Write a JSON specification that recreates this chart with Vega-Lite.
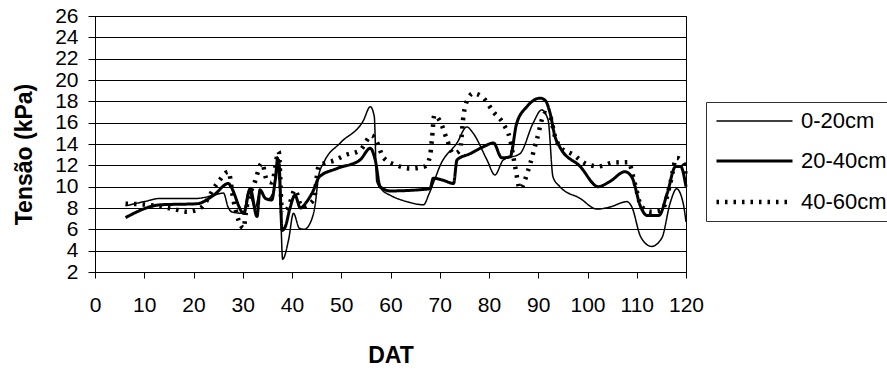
{
  "$schema": "https://vega.github.io/schema/vega-lite/v6.json",
  "width": 591,
  "height": 256,
  "autosize": {"type": "none"},
  "padding": {"left": 95, "top": 16, "right": 201, "bottom": 99},
  "background": "white",
  "config": {
    "font": "Liberation Sans",
    "view": {"stroke": "#000", "strokeWidth": 1}
  },
  "data": {
    "values": [
      {"s": "0-20cm", "x": 6.2, "y": 8.2},
      {"s": "0-20cm", "x": 10, "y": 8.6},
      {"s": "0-20cm", "x": 13.3, "y": 8.9},
      {"s": "0-20cm", "x": 20.7, "y": 8.9},
      {"s": "0-20cm", "x": 24.1, "y": 9.2},
      {"s": "0-20cm", "x": 26.1, "y": 9.4},
      {"s": "0-20cm", "x": 27, "y": 8.1},
      {"s": "0-20cm", "x": 28, "y": 7.6},
      {"s": "0-20cm", "x": 30.1, "y": 7.5},
      {"s": "0-20cm", "x": 31.2, "y": 9.6},
      {"s": "0-20cm", "x": 32.5, "y": 8.0},
      {"s": "0-20cm", "x": 33.5, "y": 9.5},
      {"s": "0-20cm", "x": 35, "y": 8.8},
      {"s": "0-20cm", "x": 36.2, "y": 9.5},
      {"s": "0-20cm", "x": 37, "y": 12.8},
      {"s": "0-20cm", "x": 37.6, "y": 9.0},
      {"s": "0-20cm", "x": 38.1, "y": 3.2},
      {"s": "0-20cm", "x": 39.3, "y": 5.0},
      {"s": "0-20cm", "x": 40.3, "y": 7.5},
      {"s": "0-20cm", "x": 41.5, "y": 6.1},
      {"s": "0-20cm", "x": 42.5, "y": 6.0},
      {"s": "0-20cm", "x": 43.7, "y": 6.6},
      {"s": "0-20cm", "x": 44.7, "y": 8.3},
      {"s": "0-20cm", "x": 45.4, "y": 11.0},
      {"s": "0-20cm", "x": 46.5, "y": 12.3},
      {"s": "0-20cm", "x": 49.8, "y": 14.1},
      {"s": "0-20cm", "x": 54.5, "y": 16.2},
      {"s": "0-20cm", "x": 55.9, "y": 17.5},
      {"s": "0-20cm", "x": 56.7, "y": 16.6},
      {"s": "0-20cm", "x": 57.2, "y": 10.5},
      {"s": "0-20cm", "x": 58.5, "y": 9.6},
      {"s": "0-20cm", "x": 59.9, "y": 9.2},
      {"s": "0-20cm", "x": 63.3, "y": 8.6},
      {"s": "0-20cm", "x": 66.7, "y": 8.3},
      {"s": "0-20cm", "x": 67.8, "y": 9.3},
      {"s": "0-20cm", "x": 69, "y": 10.7},
      {"s": "0-20cm", "x": 70.1, "y": 12.0},
      {"s": "0-20cm", "x": 73.5, "y": 14.1},
      {"s": "0-20cm", "x": 75.5, "y": 15.6},
      {"s": "0-20cm", "x": 76.8, "y": 15.0},
      {"s": "0-20cm", "x": 79.6, "y": 12.5},
      {"s": "0-20cm", "x": 81.2, "y": 11.1},
      {"s": "0-20cm", "x": 82.9, "y": 12.5},
      {"s": "0-20cm", "x": 86.3, "y": 13.1},
      {"s": "0-20cm", "x": 89, "y": 16.0},
      {"s": "0-20cm", "x": 90.7, "y": 17.2},
      {"s": "0-20cm", "x": 92, "y": 16.25},
      {"s": "0-20cm", "x": 93, "y": 10.9},
      {"s": "0-20cm", "x": 94.4, "y": 10.0},
      {"s": "0-20cm", "x": 98.5, "y": 8.9},
      {"s": "0-20cm", "x": 101.9, "y": 7.9},
      {"s": "0-20cm", "x": 104.6, "y": 8.1},
      {"s": "0-20cm", "x": 108, "y": 8.6},
      {"s": "0-20cm", "x": 109, "y": 8.1},
      {"s": "0-20cm", "x": 110.8, "y": 5.3},
      {"s": "0-20cm", "x": 113, "y": 4.4},
      {"s": "0-20cm", "x": 115.1, "y": 5.2},
      {"s": "0-20cm", "x": 116.8, "y": 8.5},
      {"s": "0-20cm", "x": 118.1, "y": 9.8},
      {"s": "0-20cm", "x": 119.4, "y": 8.5},
      {"s": "0-20cm", "x": 120, "y": 6.7},

      {"s": "20-40cm", "x": 6.2, "y": 7.1},
      {"s": "20-40cm", "x": 13.3, "y": 8.3},
      {"s": "20-40cm", "x": 20.7, "y": 8.4},
      {"s": "20-40cm", "x": 24.1, "y": 9.2},
      {"s": "20-40cm", "x": 27.1, "y": 10.3},
      {"s": "20-40cm", "x": 27.6, "y": 10.0},
      {"s": "20-40cm", "x": 30.2, "y": 7.5},
      {"s": "20-40cm", "x": 31.5, "y": 9.8},
      {"s": "20-40cm", "x": 32.9, "y": 7.2},
      {"s": "20-40cm", "x": 33.5, "y": 9.7},
      {"s": "20-40cm", "x": 34.6, "y": 8.9},
      {"s": "20-40cm", "x": 35.9, "y": 8.75},
      {"s": "20-40cm", "x": 36.6, "y": 10.6},
      {"s": "20-40cm", "x": 37.3, "y": 12.5},
      {"s": "20-40cm", "x": 38.0, "y": 5.9},
      {"s": "20-40cm", "x": 38.6, "y": 6.2},
      {"s": "20-40cm", "x": 39.6, "y": 8.0},
      {"s": "20-40cm", "x": 40.6, "y": 9.2},
      {"s": "20-40cm", "x": 41.7, "y": 8.0},
      {"s": "20-40cm", "x": 43, "y": 8.6},
      {"s": "20-40cm", "x": 44.4, "y": 9.7},
      {"s": "20-40cm", "x": 45.5, "y": 10.9},
      {"s": "20-40cm", "x": 49.1, "y": 11.7},
      {"s": "20-40cm", "x": 53.8, "y": 12.5},
      {"s": "20-40cm", "x": 55.9, "y": 13.6},
      {"s": "20-40cm", "x": 56.9, "y": 12.5},
      {"s": "20-40cm", "x": 57.9, "y": 10.0},
      {"s": "20-40cm", "x": 59.9, "y": 9.6},
      {"s": "20-40cm", "x": 68, "y": 9.8},
      {"s": "20-40cm", "x": 68.7, "y": 10.8},
      {"s": "20-40cm", "x": 70.7, "y": 10.6},
      {"s": "20-40cm", "x": 72.8, "y": 10.3},
      {"s": "20-40cm", "x": 73.5, "y": 12.5},
      {"s": "20-40cm", "x": 76.2, "y": 13.1},
      {"s": "20-40cm", "x": 78.9, "y": 13.75},
      {"s": "20-40cm", "x": 80.9, "y": 14.1},
      {"s": "20-40cm", "x": 82.6, "y": 12.7},
      {"s": "20-40cm", "x": 84.3, "y": 12.8},
      {"s": "20-40cm", "x": 85.6, "y": 15.9},
      {"s": "20-40cm", "x": 87.7, "y": 17.5},
      {"s": "20-40cm", "x": 90.4, "y": 18.3},
      {"s": "20-40cm", "x": 91.4, "y": 18.1},
      {"s": "20-40cm", "x": 92.4, "y": 16.9},
      {"s": "20-40cm", "x": 93.4, "y": 14.7},
      {"s": "20-40cm", "x": 94.4, "y": 13.7},
      {"s": "20-40cm", "x": 98.5, "y": 11.9},
      {"s": "20-40cm", "x": 102.2, "y": 10.0},
      {"s": "20-40cm", "x": 104.6, "y": 10.5},
      {"s": "20-40cm", "x": 107.6, "y": 11.4},
      {"s": "20-40cm", "x": 109, "y": 10.9},
      {"s": "20-40cm", "x": 110.8, "y": 8.1},
      {"s": "20-40cm", "x": 112.1, "y": 7.3},
      {"s": "20-40cm", "x": 114.5, "y": 7.3},
      {"s": "20-40cm", "x": 116.2, "y": 9.4},
      {"s": "20-40cm", "x": 117.9, "y": 11.9},
      {"s": "20-40cm", "x": 118.9, "y": 11.9},
      {"s": "20-40cm", "x": 120, "y": 10.0},

      {"s": "40-60cm", "x": 6.2, "y": 8.4},
      {"s": "40-60cm", "x": 10.6, "y": 8.3},
      {"s": "40-60cm", "x": 16, "y": 7.9},
      {"s": "40-60cm", "x": 18.7, "y": 7.65},
      {"s": "40-60cm", "x": 21.4, "y": 8.0},
      {"s": "40-60cm", "x": 24.8, "y": 10.3},
      {"s": "40-60cm", "x": 27.1, "y": 11.4},
      {"s": "40-60cm", "x": 28.1, "y": 8.75},
      {"s": "40-60cm", "x": 30.2, "y": 6.1},
      {"s": "40-60cm", "x": 30.6, "y": 7.5},
      {"s": "40-60cm", "x": 32.5, "y": 10.5},
      {"s": "40-60cm", "x": 33.9, "y": 12.2},
      {"s": "40-60cm", "x": 34.9, "y": 10.6},
      {"s": "40-60cm", "x": 35.9, "y": 10.4},
      {"s": "40-60cm", "x": 37.3, "y": 13.3},
      {"s": "40-60cm", "x": 38.0, "y": 7.5},
      {"s": "40-60cm", "x": 39.3, "y": 8.1},
      {"s": "40-60cm", "x": 40.6, "y": 9.7},
      {"s": "40-60cm", "x": 42, "y": 8.1},
      {"s": "40-60cm", "x": 44.4, "y": 8.75},
      {"s": "40-60cm", "x": 45.4, "y": 11.9},
      {"s": "40-60cm", "x": 48.8, "y": 12.5},
      {"s": "40-60cm", "x": 51.1, "y": 13.0},
      {"s": "40-60cm", "x": 53.8, "y": 13.4},
      {"s": "40-60cm", "x": 56.2, "y": 14.8},
      {"s": "40-60cm", "x": 57.2, "y": 14.2},
      {"s": "40-60cm", "x": 58.6, "y": 12.7},
      {"s": "40-60cm", "x": 61.3, "y": 12.0},
      {"s": "40-60cm", "x": 64, "y": 11.7},
      {"s": "40-60cm", "x": 67, "y": 11.9},
      {"s": "40-60cm", "x": 68, "y": 12.8},
      {"s": "40-60cm", "x": 68.4, "y": 14.4},
      {"s": "40-60cm", "x": 68.9, "y": 16.7},
      {"s": "40-60cm", "x": 70.1, "y": 16.1},
      {"s": "40-60cm", "x": 71.4, "y": 14.5},
      {"s": "40-60cm", "x": 72.8, "y": 13.1},
      {"s": "40-60cm", "x": 74.1, "y": 13.4},
      {"s": "40-60cm", "x": 74.8, "y": 16.6},
      {"s": "40-60cm", "x": 75.8, "y": 18.3},
      {"s": "40-60cm", "x": 76.8, "y": 18.75},
      {"s": "40-60cm", "x": 78.9, "y": 18.3},
      {"s": "40-60cm", "x": 80.9, "y": 17.0},
      {"s": "40-60cm", "x": 82.9, "y": 15.9},
      {"s": "40-60cm", "x": 84.3, "y": 14.4},
      {"s": "40-60cm", "x": 85.3, "y": 11.9},
      {"s": "40-60cm", "x": 86.3, "y": 9.8},
      {"s": "40-60cm", "x": 88, "y": 11.6},
      {"s": "40-60cm", "x": 89.7, "y": 14.4},
      {"s": "40-60cm", "x": 91.4, "y": 16.9},
      {"s": "40-60cm", "x": 92.4, "y": 16.6},
      {"s": "40-60cm", "x": 93.4, "y": 14.7},
      {"s": "40-60cm", "x": 94.4, "y": 13.75},
      {"s": "40-60cm", "x": 97.1, "y": 13.0},
      {"s": "40-60cm", "x": 99.5, "y": 12.2},
      {"s": "40-60cm", "x": 102.2, "y": 11.9},
      {"s": "40-60cm", "x": 105.2, "y": 12.25},
      {"s": "40-60cm", "x": 108.3, "y": 12.3},
      {"s": "40-60cm", "x": 109.6, "y": 10.3},
      {"s": "40-60cm", "x": 111, "y": 8.1},
      {"s": "40-60cm", "x": 113, "y": 7.65},
      {"s": "40-60cm", "x": 115.1, "y": 7.8},
      {"s": "40-60cm", "x": 116.8, "y": 10.3},
      {"s": "40-60cm", "x": 118.1, "y": 12.7},
      {"s": "40-60cm", "x": 119.5, "y": 12.2},
      {"s": "40-60cm", "x": 120, "y": 10.8}
    ]
  },
  "mark": {"type": "line", "interpolate": "monotone", "color": "#000"},
  "encoding": {
    "x": {
      "field": "x",
      "type": "quantitative",
      "scale": {"domain": [0, 120], "nice": false},
      "axis": {
        "values": [0, 10, 20, 30, 40, 50, 60, 70, 80, 90, 100, 110, 120],
        "grid": false,
        "tickSize": 6,
        "tickColor": "#000",
        "domainColor": "#000",
        "labelFontSize": 21,
        "labelColor": "#000",
        "labelPadding": 16,
        "labelFlush": false,
        "title": "DAT",
        "titleFontSize": 23,
        "titleFontWeight": "bold",
        "titleColor": "#000",
        "titleY": 90,
        "titleBaseline": "alphabetic"
      }
    },
    "y": {
      "field": "y",
      "type": "quantitative",
      "scale": {"domain": [2, 26], "nice": false, "zero": false},
      "axis": {
        "values": [2, 4, 6, 8, 10, 12, 14, 16, 18, 20, 22, 24, 26],
        "grid": true,
        "gridColor": "#000",
        "gridOpacity": 1,
        "tickSize": 7,
        "tickColor": "#000",
        "domainColor": "#000",
        "labelFontSize": 21,
        "labelColor": "#000",
        "labelPadding": 10,
        "labelFlush": false,
        "title": "Tensão (kPa)",
        "titleFontSize": 23,
        "titleFontWeight": "bold",
        "titleColor": "#000",
        "titleX": -71,
        "titleY": 138,
        "titleAlign": "center",
        "titleBaseline": "middle"
      }
    },
    "strokeDash": {
      "field": "s",
      "type": "ordinal",
      "scale": {"domain": ["0-20cm", "20-40cm", "40-60cm"], "range": [[1, 0], [1, 0], [2.5, 6]]},
      "legend": {
        "orient": "none",
        "legendX": 611,
        "legendY": 86,
        "title": null,
        "symbolType": "M-1,0H7",
        "symbolSize": 361,
        "symbolStrokeColor": "#000",
        "labelFontSize": 22,
        "labelColor": "#000",
        "labelOffset": 63,
        "strokeColor": "#333",
        "fillColor": "white",
        "padding": 8,
        "rowPadding": 18
      }
    },
    "strokeWidth": {
      "field": "s",
      "type": "ordinal",
      "scale": {"domain": ["0-20cm", "20-40cm", "40-60cm"], "range": [1.5, 4.5, 1.5]},
      "legend": {
        "orient": "none",
        "legendX": 611,
        "legendY": 86,
        "title": null,
        "symbolType": "M-1,0H7",
        "symbolSize": 361,
        "symbolStrokeColor": "#000",
        "labelFontSize": 22,
        "labelColor": "#000",
        "labelOffset": 63,
        "strokeColor": "#333",
        "fillColor": "white",
        "padding": 8,
        "rowPadding": 18
      }
    }
  }
}
